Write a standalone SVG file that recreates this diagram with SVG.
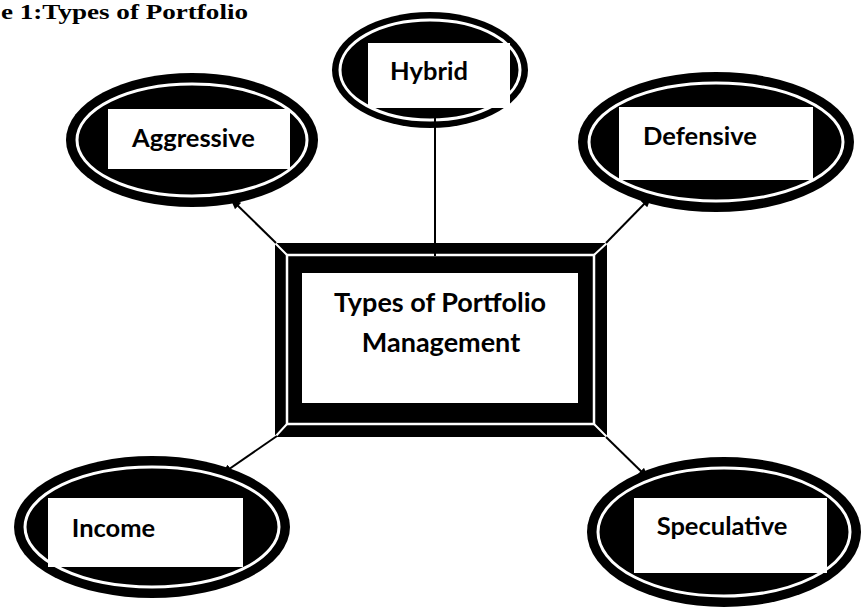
<svg xmlns="http://www.w3.org/2000/svg" width="862" height="607" viewBox="0 0 862 607">
<style>
.outer{fill:#000}
.ring{fill:none;stroke:#fff;stroke-width:3}
.box{fill:#fff}
.lbl{font-family:Lato,"Open Sans","Liberation Sans",sans-serif;font-weight:bold;font-size:25.5px;fill:#000;text-anchor:middle}
.big{font-size:27px}
.conn{stroke:#000;stroke-width:2;fill:none}
.title{font-family:"Liberation Serif",serif;font-weight:bold;font-size:21px;fill:#000}
</style>
<defs>
<marker id="ah" markerWidth="11" markerHeight="9" refX="10" refY="4.5" orient="auto" markerUnits="userSpaceOnUse">
<path d="M0,0 L11,4.5 L0,9 Z" fill="#000"/>
</marker>
</defs>
<rect width="862" height="607" fill="#fff"/>
<text class="title" x="1" y="19" textLength="247" lengthAdjust="spacingAndGlyphs">e 1:Types of Portfolio</text>

<g id="center">
<rect x="275" y="243" width="332" height="194" fill="#000"/>
<rect x="287" y="255" width="307" height="169" fill="none" stroke="#fff" stroke-width="2.5"/>
<path d="M275,243 L287,255 M607,243 L594,255 M275,437 L287,424 M607,437 L594,424" stroke="#fff" stroke-width="2"/>
<rect class="box" x="302" y="273" width="276" height="130"/>
<text class="lbl big" x="440" y="312">Types of Portfolio</text>
<text class="lbl big" x="441" y="352">Management</text>
</g>

<g id="aggressive">
<ellipse class="outer" cx="192" cy="140" rx="126" ry="67"/>
<ellipse class="ring" cx="192" cy="140" rx="115" ry="56"/>
<rect class="box" x="108" y="109" width="182" height="60"/>
<text class="lbl" x="193.5" y="147">Aggressive</text>
</g>

<g id="hybrid">
<ellipse class="outer" cx="430" cy="70" rx="98" ry="58"/>
<ellipse class="ring" cx="430" cy="70" rx="90" ry="50"/>
<rect class="box" x="368" y="43" width="142" height="65"/>
<text class="lbl" x="429" y="80">Hybrid</text>
</g>

<g id="defensive">
<ellipse class="outer" cx="716" cy="142" rx="138" ry="70"/>
<ellipse class="ring" cx="716" cy="142" rx="127" ry="59"/>
<rect class="box" x="619" y="107" width="194" height="73"/>
<text class="lbl" x="700" y="145">Defensive</text>
</g>

<g id="income">
<ellipse class="outer" cx="152" cy="527" rx="138" ry="71"/>
<ellipse class="ring" cx="152" cy="527" rx="127" ry="60"/>
<rect class="box" x="48" y="498" width="195" height="69"/>
<text class="lbl" x="113.5" y="537">Income</text>
</g>

<g id="speculative">
<ellipse class="outer" cx="724" cy="532" rx="137" ry="75"/>
<ellipse class="ring" cx="724" cy="532" rx="126" ry="64"/>
<rect class="box" x="634" y="498" width="193" height="75"/>
<text class="lbl" x="722" y="535">Speculative</text>
</g>

<g id="connectors">
<line class="conn" x1="276" y1="243" x2="231" y2="199" marker-end="url(#ah)"/>
<line class="conn" x1="435" y1="108" x2="435" y2="256"/>
<line class="conn" x1="606" y1="243" x2="651" y2="197" marker-end="url(#ah)"/>
<line class="conn" x1="277" y1="436" x2="222" y2="474" marker-end="url(#ah)"/>
<line class="conn" x1="606" y1="437" x2="648" y2="478" marker-end="url(#ah)"/>
</g>
</svg>
